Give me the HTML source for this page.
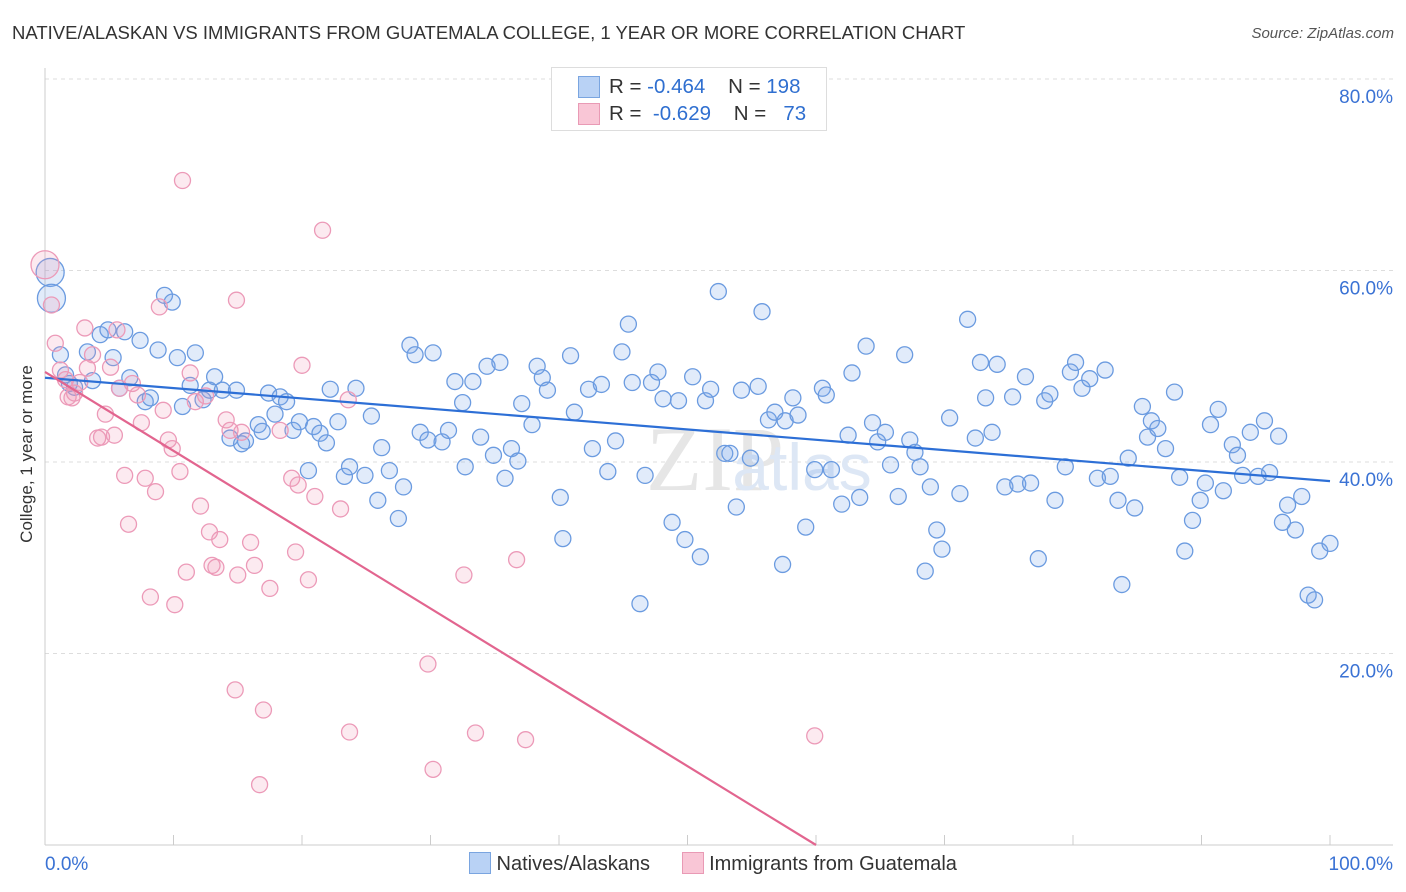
<!DOCTYPE html>
<html><head><meta charset="utf-8"><style>
body{margin:0;background:#fff;font-family:"Liberation Sans",sans-serif;}
#wrap{position:relative;width:1406px;height:892px;overflow:hidden;}
.t{position:absolute;white-space:nowrap;}
</style></head><body>
<div id="wrap">
<div class="t" style="left:12px;top:22px;font-size:18.5px;color:#333;">NATIVE/ALASKAN VS IMMIGRANTS FROM GUATEMALA COLLEGE, 1 YEAR OR MORE CORRELATION CHART</div>
<div class="t" style="right:12px;top:25px;font-size:15px;color:#555;font-style:italic;">Source: ZipAtlas.com</div>
<div class="t" style="left:-62px;top:444px;font-size:17px;color:#333;transform:rotate(-90deg);">College, 1 year or more</div>
<svg id="svg" width="1406" height="892" style="position:absolute;left:0;top:0"></svg>
<div style="position:absolute;left:551px;top:67px;width:274px;height:62px;border:1px solid #ddd;background:#fff;font-size:20.5px;">
 <div style="position:absolute;left:26px;top:8px;width:20px;height:20px;background:#b9d2f5;border:1px solid #7aa5e0;"></div>
 <div class="t" style="left:57px;top:7px;color:#333">R = <span style="color:#2f6fd0">-0.464</span>&nbsp;&nbsp;&nbsp;&nbsp;N = <span style="color:#2f6fd0">198</span></div>
 <div style="position:absolute;left:26px;top:35px;width:20px;height:20px;background:#f9c6d6;border:1px solid #e99ab5;"></div>
 <div class="t" style="left:57px;top:34px;color:#333">R = <span style="color:#2f6fd0">&nbsp;-0.629</span>&nbsp;&nbsp;&nbsp;&nbsp;N = <span style="color:#2f6fd0">&nbsp;&nbsp;73</span></div>
</div>
<div style="position:absolute;left:469px;top:852px;font-size:20px;color:#333;">
 <span style="display:inline-block;width:20px;height:20px;background:#b9d2f5;border:1px solid #7aa5e0;vertical-align:-4px;"></span> Natives/Alaskans
 <span style="display:inline-block;width:20px;height:20px;background:#f9c6d6;border:1px solid #e99ab5;vertical-align:-4px;margin-left:26px;"></span> Immigrants from Guatemala
</div>
</div>
<script>
const yTicks=[20,40,60,80];
const yTickLabels=["20.0%","40.0%","60.0%","80.0%"];
const blueX=[0.4,0.5,1.2,1.6,1.9,2.3,3.3,3.7,4.3,4.9,5.3,5.8,6.2,6.6,7.4,7.8,8.2,8.8,9.3,9.9,10.3,10.7,11.3,11.7,12.3,12.8,13.2,13.8,14.4,14.9,15.3,15.6,16.6,16.9,17.4,17.9,18.3,18.8,19.3,19.8,20.5,20.9,21.4,21.9,22.2,22.8,23.3,23.7,24.2,24.9,25.4,25.9,26.2,26.8,27.5,27.9,28.4,28.8,29.2,29.8,30.2,30.9,31.4,31.9,32.5,32.7,33.3,33.9,34.4,34.9,35.4,35.8,36.3,36.8,37.1,37.9,38.3,38.7,39.1,40.1,40.3,40.9,41.2,42.3,42.6,43.3,43.8,44.4,44.9,45.4,45.7,46.3,46.7,47.2,47.7,48.1,48.8,49.3,49.8,50.4,51.0,51.4,51.8,52.4,52.9,53.3,53.8,54.2,54.9,55.5,55.8,56.3,56.8,57.4,57.6,58.2,58.6,59.2,59.9,60.5,60.8,61.2,62.0,62.5,62.8,63.4,63.9,64.4,64.8,65.4,65.8,66.4,66.9,67.3,67.7,68.1,68.5,68.9,69.4,69.8,70.4,71.2,71.8,72.4,72.8,73.2,73.7,74.1,74.7,75.3,75.7,76.3,76.7,77.3,77.8,78.2,78.6,79.4,79.8,80.2,80.7,81.3,81.9,82.5,82.9,83.5,83.8,84.3,84.8,85.4,85.8,86.1,86.6,87.2,87.9,88.3,88.7,89.3,89.9,90.3,90.7,91.3,91.7,92.4,92.8,93.2,93.8,94.4,94.9,95.3,96.0,96.3,96.7,97.3,97.8,98.3,98.8,99.2,100];
const blueY=[59.8,57.1,51.2,49.1,48.2,47.8,51.5,48.5,53.3,53.8,50.9,47.7,53.6,48.8,52.7,46.3,46.7,51.7,57.4,56.7,50.9,45.8,48.0,51.4,46.5,47.5,48.9,47.5,42.5,47.5,41.9,42.2,43.9,43.2,47.2,45.0,46.8,46.3,43.3,44.2,39.1,43.7,43.0,42.0,47.6,44.2,38.5,39.5,47.7,38.6,44.8,36.0,41.5,39.1,34.1,37.4,52.2,51.2,43.1,42.3,51.4,42.1,43.3,48.4,46.2,39.5,48.4,42.6,50.0,40.7,50.4,38.3,41.4,40.1,46.1,43.9,50.0,48.8,47.5,36.3,32.0,51.1,45.2,47.6,41.4,48.1,39.0,42.2,51.5,54.4,48.3,25.2,38.6,48.3,49.4,46.6,33.7,46.4,31.9,48.9,30.1,46.4,47.6,57.8,40.9,40.9,35.3,47.5,40.4,47.9,55.7,44.4,45.2,29.3,44.3,46.7,44.9,33.2,39.2,47.7,47.0,39.2,35.6,42.8,49.3,36.3,52.1,44.1,42.1,43.1,39.7,36.4,51.2,42.3,41.0,39.5,28.6,37.4,32.9,30.9,44.6,36.7,54.9,42.5,50.4,46.7,43.1,50.2,37.4,46.8,37.7,48.9,37.8,29.9,46.4,47.1,36.0,39.5,49.4,50.4,47.7,48.7,38.3,49.6,38.5,36.0,27.2,40.4,35.2,45.8,42.6,44.3,43.5,41.4,47.3,38.4,30.7,33.9,36.0,37.8,43.9,45.5,37.0,41.8,40.7,38.6,43.1,38.5,44.3,38.9,42.7,33.7,35.5,32.9,36.4,26.1,25.6,30.7,31.5];
const pinkX=[0,0.5,0.8,1.2,1.6,1.8,2.1,2.3,2.7,3.1,3.3,3.7,4.1,4.4,4.7,5.1,5.4,5.6,5.8,6.2,6.5,6.8,7.2,7.5,7.8,8.2,8.6,8.9,9.2,9.6,9.9,10.1,10.5,10.7,11.0,11.3,11.7,12.1,12.5,12.8,13.0,13.3,13.6,14.1,14.4,14.8,14.9,15.0,15.3,16.0,16.3,16.7,17.0,17.5,18.3,19.2,19.5,19.7,20.0,20.5,21.0,21.6,23.0,23.6,23.7,29.8,30.2,32.6,33.5,36.7,37.4,59.9];
const pinkY=[60.6,56.4,52.4,49.6,48.6,46.8,46.7,47.2,48.3,54.0,49.8,51.2,42.5,42.6,45.0,49.9,42.8,53.8,47.7,38.6,33.5,48.2,47.0,44.1,38.3,25.9,36.9,56.2,45.4,42.3,41.4,25.1,39.0,69.4,28.5,49.3,46.3,35.4,46.9,32.7,29.2,29.0,31.9,44.4,43.3,16.2,56.9,28.2,43.1,31.6,29.2,6.3,14.1,26.8,43.3,38.3,30.6,37.6,50.1,27.7,36.4,64.2,35.1,46.5,11.8,18.9,7.9,28.2,11.7,29.8,11.0,11.4];
const blueTrend=[48.8,38.0];
const pinkTrend=[49.4,0,60.0];
const NS="http://www.w3.org/2000/svg",svg=document.getElementById('svg');
const X0=45,X1=1330,Y0=845,YPER=9.575;
const sx=v=>X0+(X1-X0)*v/100, sy=v=>Y0-v*YPER;
function mk(t,a){const e=document.createElementNS(NS,t);for(const k in a)e.setAttribute(k,a[k]);svg.appendChild(e);return e;}
yTicks.forEach((v,i)=>{const g=mk('line',{x1:X0,x2:1393,y1:sy(v),y2:sy(v),stroke:'#ddd','stroke-dasharray':'4,4'});

const t=mk('text',{x:1393,y:sy(v)+24,'text-anchor':'end','font-size':19,fill:'#3a72d4','font-family':'Liberation Sans'});t.textContent=yTickLabels[i];
});
const ax=mk('line',{x1:X0,x2:1393,y1:Y0,y2:Y0,stroke:'#ccc'});
const ay=mk('line',{x1:X0,x2:X0,y1:68,y2:Y0,stroke:'#ccc'});
for(let i=0;i<=10;i++){const k=mk('line',{x1:sx(i*10),x2:sx(i*10),y1:Y0-10,y2:Y0,stroke:'#ccc'});}
[['0.0%',45,'start'],['100.0%',1393,'end']].forEach(d=>{const t=mk('text',{x:d[1],y:870,'text-anchor':d[2],'font-size':19,fill:'#3a72d4','font-family':'Liberation Sans'});t.textContent=d[0];});
const w=mk('text',{x:715,y:490,'text-anchor':'middle','font-size':92,fill:'#e6e6e6','font-family':'Liberation Serif'});w.textContent='ZIP';
const w2=mk('text',{x:802,y:490,'text-anchor':'middle','font-size':66,fill:'#dde7f5','font-family':'Liberation Sans'});w2.textContent='atlas';
blueX.forEach((x,i)=>{const c=mk('circle',{cx:sx(x),cy:sy(blueY[i]),r:i<2?14:8,fill:'rgba(120,165,230,0.22)',stroke:'#6b9be0','stroke-width':1.3});
});
pinkX.forEach((x,i)=>{const c=mk('circle',{cx:sx(x),cy:sy(pinkY[i]),r:i==0?14:8,fill:'rgba(240,150,180,0.2)',stroke:'#ec9ab8','stroke-width':1.3});
});
const bl=mk('line',{x1:sx(0),y1:sy(blueTrend[0]),x2:sx(100),y2:sy(blueTrend[1]),stroke:'#2d6fd6','stroke-width':2.2});

const pl=mk('line',{x1:sx(0),y1:sy(pinkTrend[0]),x2:sx(pinkTrend[2]),y2:sy(pinkTrend[1]),stroke:'#e2658f','stroke-width':2.2});

</script>
</body></html>
